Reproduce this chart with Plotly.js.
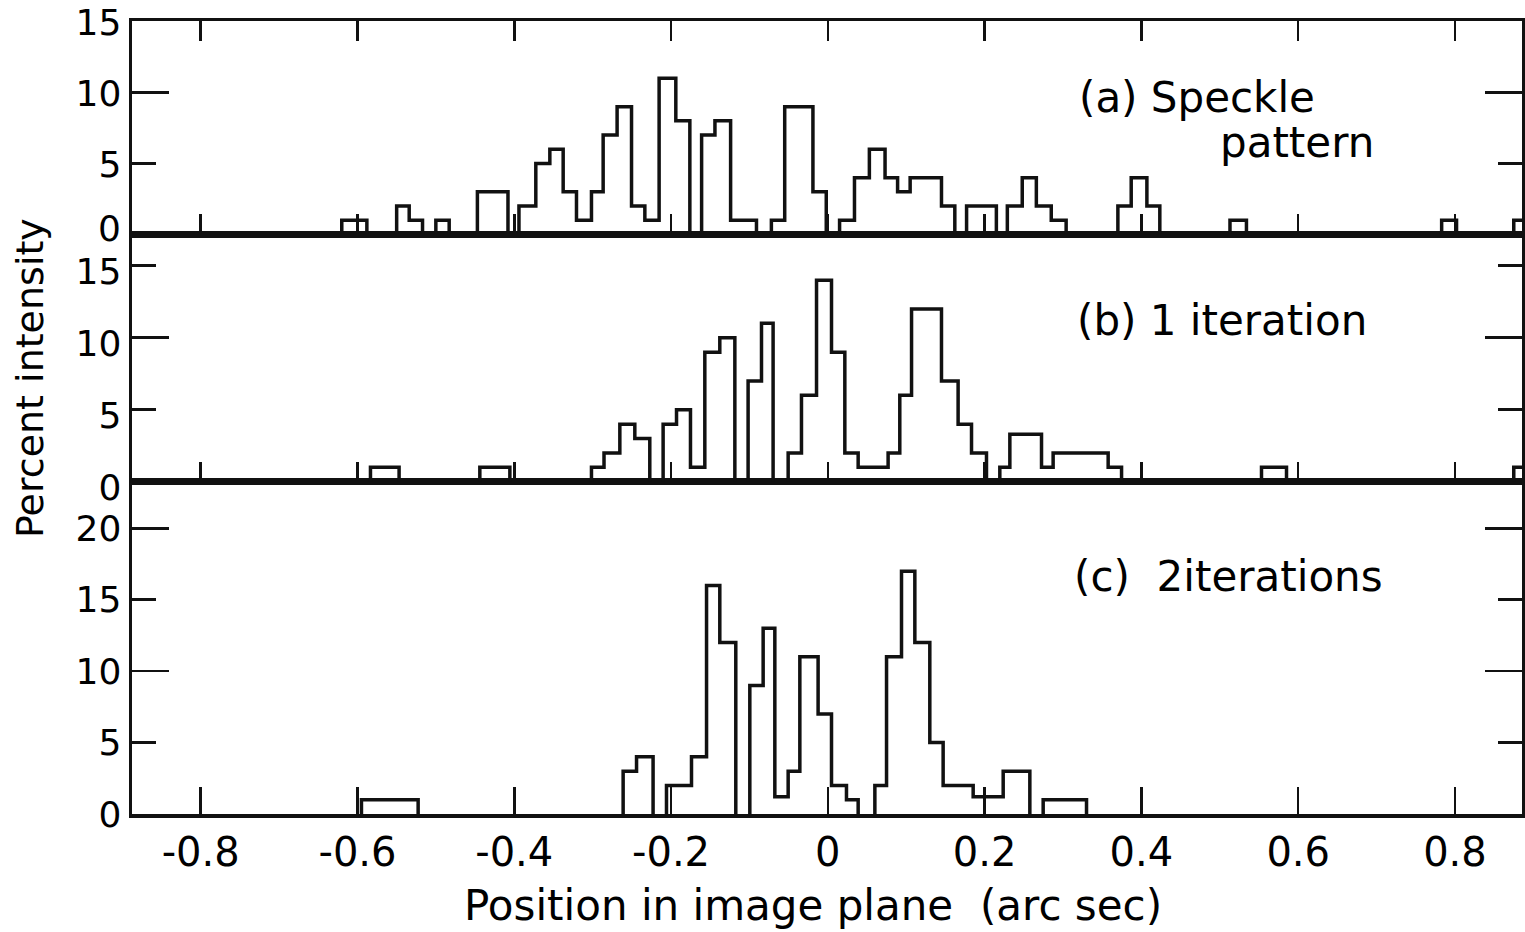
<!DOCTYPE html>
<html>
<head>
<meta charset="utf-8">
<script src="https://cdn.plot.ly/plotly-3.0.1.min.js"></script>
<style>html,body{margin:0;padding:0;background:#fff;}#chart{width:1525px;height:932px;}</style>
</head>
<body>
<div id="chart"></div>
<script>
// ---- Data ----
// Each panel: list of contiguous histogram groups; edges (arc sec) and heights (percent intensity)
const a_edges = [
  [-0.620, -0.588],
  [-0.550, -0.534, -0.517],
  [-0.500, -0.483],
  [-0.447, -0.408],
  [-0.394, -0.3725, -0.3546, -0.3376, -0.3206, -0.3015, -0.2866, -0.2688, -0.2504, -0.2334, -0.2152, -0.1939, -0.176],
  [-0.161, -0.144, -0.124, -0.091],
  [-0.072, -0.055, -0.019, -0.002],
  [0.015, 0.034, 0.053, 0.073, 0.089, 0.105, 0.145, 0.162],
  [0.177, 0.215],
  [0.229, 0.248, 0.266, 0.285, 0.304],
  [0.370, 0.387, 0.407, 0.4235],
  [0.513, 0.534],
  [0.783, 0.802],
  [0.875, 0.895]
];
const a_heights = [
  [1],
  [2, 1],
  [1],
  [3],
  [2, 5, 6, 3, 1, 3, 7, 9, 2, 1, 11, 8],
  [7, 8, 1],
  [1, 9, 3],
  [1, 4, 6, 4, 3, 4, 2],
  [2],
  [2, 4, 2, 1],
  [2, 4, 2],
  [1],
  [1],
  [1]
];

const b_edges = [
  [-0.5834, -0.5469],
  [-0.4439, -0.4056],
  [-0.3015, -0.2855, -0.2653, -0.2462, -0.2271],
  [-0.2101, -0.193, -0.1752, -0.1569, -0.1378, -0.1186],
  [-0.1017, -0.0846, -0.0698],
  [-0.0506, -0.0336, -0.0144, 0.0047, 0.0217, 0.0387, 0.0769, 0.0918, 0.1068, 0.145, 0.1662, 0.1833, 0.2024],
  [0.2194, 0.2322, 0.2726, 0.2874, 0.3576, 0.3747],
  [0.5532, 0.5851],
  [0.875, 0.895]
];
const b_heights = [
  [1],
  [1],
  [1, 2, 4, 3],
  [4, 5, 1, 9, 10],
  [7, 11],
  [2, 6, 14, 9, 2, 1, 2, 6, 12, 7, 4, 2],
  [1, 3.3, 1, 2, 1],
  [1],
  [1]
];

const c_edges = [
  [-0.5949, -0.5226],
  [-0.2611, -0.244, -0.2229],
  [-0.2058, -0.1739, -0.1547, -0.1378, -0.1174],
  [-0.0995, -0.0825, -0.0676, -0.0506, -0.0357, -0.0124, 0.0047, 0.0238, 0.0387],
  [0.060, 0.0749, 0.094, 0.111, 0.1301, 0.1471, 0.1854, 0.2237, 0.2577],
  [0.2747, 0.330]
];
const c_heights = [
  [1],
  [3, 4],
  [2, 4, 16, 12],
  [9, 13, 1.2, 3, 11, 7, 2, 1],
  [2, 11, 17, 12, 5, 2, 1.2, 3],
  [1]
];

const xTickVals = [-0.8, -0.6, -0.4, -0.2, 0, 0.2, 0.4, 0.6, 0.8];
const xTickText = ["-0.8", "-0.6", "-0.4", "-0.2", "0", "0.2", "0.4", "0.6", "0.8"];
const aTicks = [5, 10, 15];
const aZero = [0];
const bTicks = [0, 5, 10, 15];
const cTicks = [0, 5, 10, 15, 20];
const aMajor = [10];
const bMajor = [10];
const cMajor = [10, 20];

const panelLabels = ["(a) Speckle", "pattern", "(b) 1 iteration", "(c)\u00a0 2iterations"];
const xTitle = "Position in image plane\u00a0\u00a0(arc sec)";
const yTitle = "Percent intensity";

// ---- Build step outlines ----
function outline(edges, heights) {
  const xs = [], ys = [];
  for (let g = 0; g < edges.length; g++) {
    const e = edges[g], h = heights[g];
    xs.push(e[0]); ys.push(0);
    for (let i = 0; i < h.length; i++) {
      xs.push(e[i]); ys.push(h[i]);
      xs.push(e[i + 1]); ys.push(h[i]);
    }
    xs.push(e[e.length - 1]); ys.push(0);
    xs.push(null); ys.push(null);
  }
  return {x: xs, y: ys};
}

const LW = 3.5;
const INK = '#111';
const FONT = 'DejaVu Sans, Liberation Sans, sans-serif';
const YFS = 36;

const oa = outline(a_edges, a_heights);
const ob = outline(b_edges, b_heights);
const oc = outline(c_edges, c_heights);

const traces = [
  {type: 'scatter', mode: 'lines', x: oc.x, y: oc.y, xaxis: 'x', yaxis: 'y', line: {color: INK, width: LW}, hoverinfo: 'skip'},
  {type: 'scatter', mode: 'lines', x: ob.x, y: ob.y, xaxis: 'x2', yaxis: 'y2', line: {color: INK, width: LW}, hoverinfo: 'skip'},
  {type: 'scatter', mode: 'lines', x: oa.x, y: oa.y, xaxis: 'x3', yaxis: 'y3', line: {color: INK, width: LW}, hoverinfo: 'skip'},
  {type: 'scatter', mode: 'lines', x: [], y: [], xaxis: 'x', yaxis: 'y4', hoverinfo: 'skip'},
  {type: 'scatter', mode: 'lines', x: [], y: [], xaxis: 'x2', yaxis: 'y5', hoverinfo: 'skip'},
  {type: 'scatter', mode: 'lines', x: [], y: [], xaxis: 'x3', yaxis: 'y6', hoverinfo: 'skip'},
  {type: 'scatter', mode: 'lines', x: [], y: [], xaxis: 'x3', yaxis: 'y7', hoverinfo: 'skip'}
];

const xRange = [-0.8876, 0.8855];
const domC = [0, 0.419];
const domB = [0.419, 0.7308];
const domA = [0.7308, 1];
const rangeC = [0, 23.26];
const rangeB = [0, 17.17];
const rangeA = [0, 15.03];

function xax(anchor, showLabels, mirror, tlen) {
  return {
    anchor: anchor, range: xRange, showgrid: false, zeroline: false,
    showline: true, linewidth: LW, linecolor: INK, mirror: mirror,
    ticks: 'inside', ticklen: tlen, tickwidth: 2.5, tickcolor: INK,
    tickmode: 'array', tickvals: xTickVals, ticktext: xTickText,
    showticklabels: showLabels,
    tickfont: {family: FONT, size: 40, color: '#000'},
    ticklabelstandoff: 0,
    fixedrange: true
  };
}
function yax(anchor, dom, rng, vals, shift) {
  return {
    anchor: anchor, domain: dom, range: rng, showgrid: false, zeroline: false,
    showline: true, linewidth: LW, linecolor: INK, mirror: 'ticks',
    ticks: 'inside', ticklen: 24, tickwidth: 2.5, tickcolor: INK,
    tickmode: 'array', tickvals: vals, ticktext: vals.map(String),
    tickfont: {family: FONT, size: YFS, color: '#000'},
    ticklabelstandoff: 0,
    ticklabelshift: shift,
    fixedrange: true
  };
}
function yover(anchor, base, rng, vals) {
  return {
    anchor: anchor, overlaying: base, range: rng, showgrid: false, zeroline: false,
    showline: false, mirror: 'ticks',
    ticks: 'inside', ticklen: 37, tickwidth: 2.5, tickcolor: INK,
    tickmode: 'array', tickvals: vals, showticklabels: false,
    fixedrange: true
  };
}
function ylabelOnly(anchor, base, rng, vals, shift) {
  return {
    anchor: anchor, overlaying: base, range: rng, showgrid: false, zeroline: false,
    showline: false, ticks: '',
    tickmode: 'array', tickvals: vals, ticktext: vals.map(String),
    tickfont: {family: FONT, size: YFS, color: '#000'},
    ticklabelstandoff: 10,
    ticklabelshift: shift,
    fixedrange: true
  };
}

const layout = {
  width: 1525, height: 932,
  margin: {l: 132, r: 3, t: 21, b: 118},
  paper_bgcolor: '#fff', plot_bgcolor: '#fff',
  showlegend: false,
  font: {family: FONT, color: '#000'},
  xaxis: xax('y', true, true, 27),
  xaxis2: Object.assign(xax('y2', false, true, 20), {matches: 'x'}),
  xaxis3: Object.assign(xax('y3', false, 'ticks', 20), {matches: 'x'}),
  yaxis: yax('x', domC, rangeC, cTicks, 0),
  yaxis2: yax('x2', domB, rangeB, bTicks, 6),
  yaxis3: yax('x3', domA, rangeA, aTicks, 1),
  yaxis4: yover('x', 'y', rangeC, cMajor),
  yaxis5: yover('x2', 'y2', rangeB, bMajor),
  yaxis6: yover('x3', 'y3', rangeA, aMajor),
  yaxis7: ylabelOnly('x3', 'y3', rangeA, aZero, -6),
  annotations: [
    {text: panelLabels[0], xref: 'paper', yref: 'paper', x: 0.6799, y: 0.9035, xanchor: 'left', yanchor: 'middle', showarrow: false, font: {family: FONT, size: 42, color: '#000'}},
    {text: panelLabels[1], xref: 'paper', yref: 'paper', x: 0.7813, y: 0.8474, xanchor: 'left', yanchor: 'middle', showarrow: false, font: {family: FONT, size: 42, color: '#000'}},
    {text: panelLabels[2], xref: 'paper', yref: 'paper', x: 0.6784, y: 0.6217, xanchor: 'left', yanchor: 'middle', showarrow: false, font: {family: FONT, size: 42, color: '#000'}},
    {text: panelLabels[3], xref: 'paper', yref: 'paper', x: 0.676, y: 0.2995, xanchor: 'left', yanchor: 'middle', showarrow: false, font: {family: FONT, size: 42, color: '#000'}},
    {text: xTitle, xref: 'paper', yref: 'paper', x: 0.4896, y: -0.1148, xanchor: 'center', yanchor: 'middle', showarrow: false, font: {family: FONT, size: 42, color: '#000'}},
    {text: yTitle, xref: 'paper', yref: 'paper', x: -0.0734, y: 0.5498, xanchor: 'center', yanchor: 'middle', textangle: -90, showarrow: false, font: {family: FONT, size: 38, color: '#000'}}
  ]
};

Plotly.newPlot('chart', traces, layout, {staticPlot: true, displayModeBar: false});
</script>
</body>
</html>
